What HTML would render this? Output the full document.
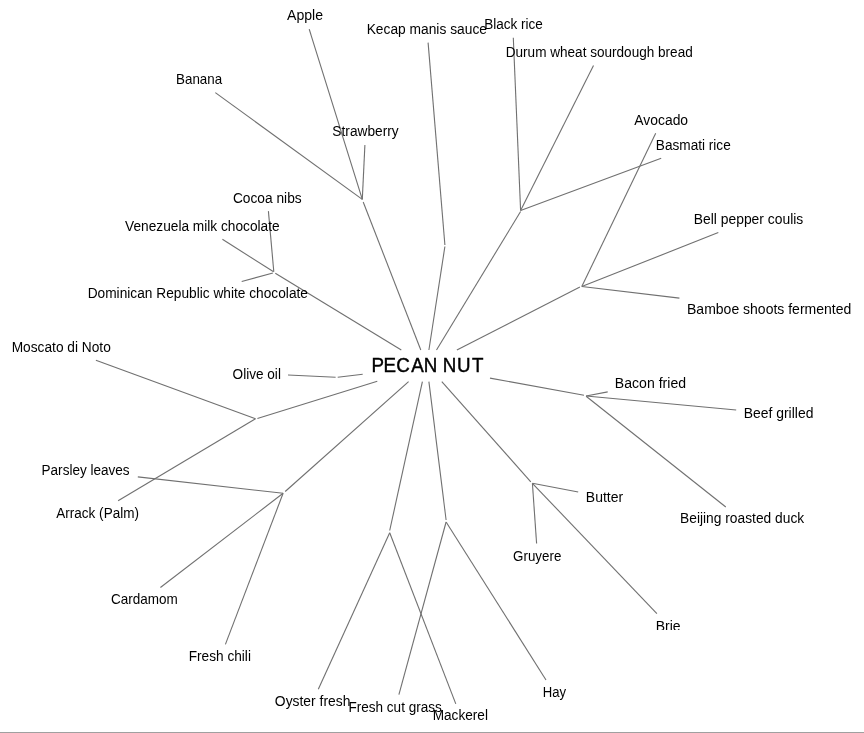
<!DOCTYPE html><html><head><meta charset="utf-8"><style>html,body{margin:0;padding:0;background:#fff;}body{width:864px;height:733px;overflow:hidden;position:relative;}svg{position:absolute;left:0;top:0;display:block;will-change:transform;}text{font-family:"Liberation Sans",sans-serif;fill:#000;}</style></head><body>
<svg width="864" height="733" viewBox="0 0 864 733">
<rect x="0" y="0" width="864" height="733" fill="#fff"/>
<g stroke="#707070" stroke-width="1.1" fill="none">
<line x1="309.2" y1="29.2" x2="362.3" y2="199.4"/>
<line x1="215.3" y1="92.6" x2="362.3" y2="199.4"/>
<line x1="364.9" y1="145.0" x2="362.3" y2="199.4"/>
<line x1="363.2" y1="202.0" x2="420.8" y2="350.0"/>
<line x1="428.1" y1="42.6" x2="444.9" y2="245.0"/>
<line x1="444.9" y1="246.5" x2="428.9" y2="350.0"/>
<line x1="513.3" y1="37.8" x2="520.6" y2="210.6"/>
<line x1="593.5" y1="65.4" x2="520.6" y2="210.6"/>
<line x1="661.2" y1="158.3" x2="520.6" y2="210.6"/>
<line x1="520.6" y1="211.5" x2="436.5" y2="350.0"/>
<line x1="655.7" y1="133.3" x2="581.8" y2="286.5"/>
<line x1="718.3" y1="232.6" x2="581.8" y2="286.5"/>
<line x1="679.4" y1="298.1" x2="581.8" y2="286.5"/>
<line x1="579.9" y1="286.9" x2="456.9" y2="350.0"/>
<line x1="268.4" y1="211.1" x2="273.8" y2="271.8"/>
<line x1="222.4" y1="239.3" x2="273.6" y2="271.8"/>
<line x1="241.7" y1="281.5" x2="272.9" y2="273.0"/>
<line x1="275.3" y1="273.3" x2="401.3" y2="350.0"/>
<line x1="490.0" y1="378.1" x2="584.0" y2="395.3"/>
<line x1="586.1" y1="396.0" x2="607.7" y2="391.9"/>
<line x1="586.1" y1="396.0" x2="736.2" y2="410.0"/>
<line x1="586.1" y1="396.2" x2="725.8" y2="507.0"/>
<line x1="441.8" y1="381.6" x2="530.8" y2="481.8"/>
<line x1="532.4" y1="483.3" x2="578.2" y2="492.0"/>
<line x1="532.4" y1="483.3" x2="536.6" y2="543.5"/>
<line x1="532.4" y1="483.3" x2="656.9" y2="613.6"/>
<line x1="428.9" y1="381.6" x2="446.1" y2="520.0"/>
<line x1="446.1" y1="522.0" x2="546.0" y2="680.0"/>
<line x1="446.1" y1="522.0" x2="398.9" y2="694.7"/>
<line x1="422.4" y1="381.6" x2="389.7" y2="530.5"/>
<line x1="389.7" y1="532.8" x2="318.3" y2="689.2"/>
<line x1="389.7" y1="532.8" x2="455.8" y2="703.9"/>
<line x1="288.0" y1="375.0" x2="335.6" y2="377.3"/>
<line x1="337.7" y1="377.3" x2="362.7" y2="374.2"/>
<line x1="377.3" y1="381.2" x2="257.4" y2="418.5"/>
<line x1="255.5" y1="418.8" x2="95.9" y2="360.2"/>
<line x1="255.5" y1="418.8" x2="118.1" y2="500.8"/>
<line x1="408.6" y1="381.6" x2="285.2" y2="491.5"/>
<line x1="283.1" y1="493.3" x2="137.8" y2="476.9"/>
<line x1="283.1" y1="493.3" x2="160.4" y2="587.5"/>
<line x1="283.1" y1="493.3" x2="225.4" y2="644.4"/>
</g>
<rect x="0" y="732" width="864" height="1" fill="#a0a0a0"/>
<defs><clipPath id="brieclip" clipPathUnits="userSpaceOnUse"><rect x="-20" y="-20" width="60" height="19"/></clipPath></defs>
<text font-size="14.50" transform="translate(287.00 20.00) scale(0.9722 1)">Apple</text>
<text font-size="14.50" transform="translate(366.65 34.00) scale(0.9512 1)">Kecap manis sauce</text>
<text font-size="14.50" transform="translate(484.17 29.00) scale(0.9344 1)">Black rice</text>
<text font-size="14.50" transform="translate(505.76 57.00) scale(0.9364 1)">Durum wheat sourdough bread</text>
<text font-size="14.50" transform="translate(176.08 84.00) scale(0.9204 1)">Banana</text>
<text font-size="14.50" transform="translate(634.30 125.00) scale(0.9589 1)">Avocado</text>
<text font-size="14.50" transform="translate(332.35 136.00) scale(0.9464 1)">Strawberry</text>
<text font-size="14.50" transform="translate(655.86 150.00) scale(0.9397 1)">Basmati rice</text>
<text font-size="14.50" transform="translate(232.95 203.00) scale(0.9479 1)">Cocoa nibs</text>
<text font-size="14.50" transform="translate(693.74 224.00) scale(0.9575 1)">Bell pepper coulis</text>
<text font-size="14.50" transform="translate(125.10 231.00) scale(0.9448 1)">Venezuela milk chocolate</text>
<text font-size="14.50" transform="translate(87.65 298.00) scale(0.9463 1)">Dominican Republic white chocolate</text>
<text font-size="14.50" transform="translate(687.03 314.00) scale(0.9661 1)">Bamboe shoots fermented</text>
<text font-size="14.50" transform="translate(11.65 352.00) scale(0.9476 1)">Moscato di Noto</text>
<text font-size="14.50" transform="translate(232.56 379.00) scale(0.9380 1)">Olive oil</text>
<text font-size="14.50" transform="translate(614.83 388.00) scale(0.9718 1)">Bacon fried</text>
<text font-size="14.50" transform="translate(743.64 418.00) scale(0.9620 1)">Beef grilled</text>
<text font-size="14.50" transform="translate(41.57 475.00) scale(0.9344 1)">Parsley leaves</text>
<text font-size="14.50" transform="translate(585.84 502.00) scale(0.9649 1)">Butter</text>
<text font-size="14.50" transform="translate(56.30 518.00) scale(0.9330 1)">Arrack (Palm)</text>
<text font-size="14.50" transform="translate(680.05 523.00) scale(0.9512 1)">Beijing roasted duck</text>
<text font-size="14.50" transform="translate(513.08 561.00) scale(0.9216 1)">Gruyere</text>
<text font-size="14.50" transform="translate(110.97 604.00) scale(0.9314 1)">Cardamom</text>
<text font-size="14.50" transform="translate(655.73 631.00) scale(0.9667 1)" clip-path="url(#brieclip)">Brie</text>
<text font-size="14.50" transform="translate(188.66 661.00) scale(0.9438 1)">Fresh chili</text>
<text font-size="14.50" transform="translate(542.70 697.00) scale(0.9040 1)">Hay</text>
<text font-size="14.50" transform="translate(274.84 706.00) scale(0.9571 1)">Oyster fresh</text>
<text font-size="14.50" transform="translate(348.46 712.00) scale(0.9354 1)">Fresh cut grass</text>
<text font-size="14.50" transform="translate(432.66 720.00) scale(0.9404 1)">Mackerel</text>
<text font-size="20.30" transform="translate(371.48 372.00) scale(0.9250 1)" stroke="#000" stroke-width="0.45">P</text><text font-size="20.30" transform="translate(383.58 372.00) scale(0.9250 1)" stroke="#000" stroke-width="0.45">E</text><text font-size="20.30" transform="translate(396.37 372.00) scale(0.9250 1)" stroke="#000" stroke-width="0.45">C</text><text font-size="20.30" transform="translate(411.28 372.00) scale(0.9250 1)" stroke="#000" stroke-width="0.45">A</text><text font-size="20.30" transform="translate(423.78 372.00) scale(0.9250 1)" stroke="#000" stroke-width="0.45">N</text><text font-size="20.30" transform="translate(442.78 372.00) scale(0.9250 1)" stroke="#000" stroke-width="0.45">N</text><text font-size="20.30" transform="translate(456.97 372.00) scale(0.9250 1)" stroke="#000" stroke-width="0.45">U</text><text font-size="20.30" transform="translate(471.90 372.00) scale(0.9250 1)" stroke="#000" stroke-width="0.45">T</text>
</svg></body></html>
